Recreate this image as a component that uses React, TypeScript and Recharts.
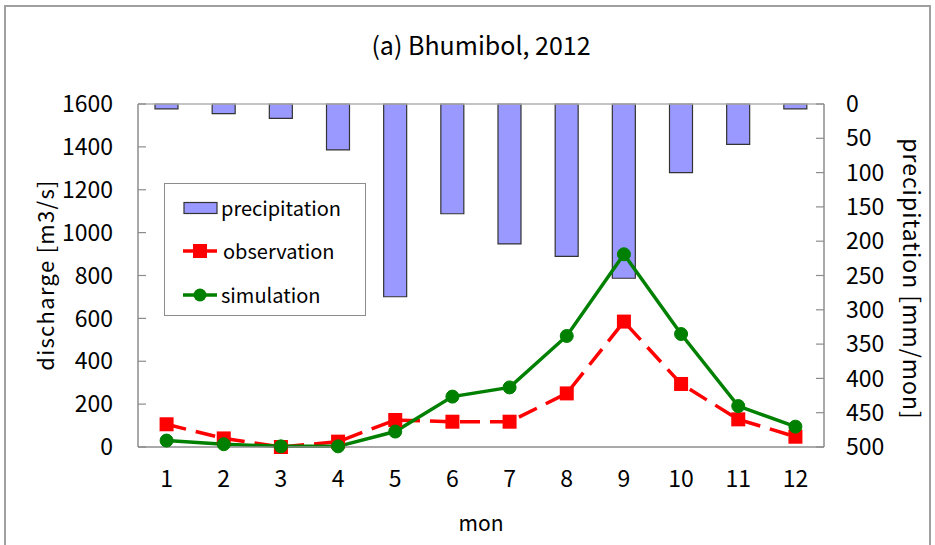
import React from 'react';
import { ComposedChart, Bar, Line, XAxis, YAxis, ReferenceLine, Legend } from 'recharts';

const months = [1, 2, 3, 4, 5, 6, 7, 8, 9, 10, 11, 12];
const precipitation = [7, 14, 21, 67, 281, 160, 204, 222, 254, 100, 59, 7];
const observation = [106, 40, 0, 25, 126, 118, 118, 250, 585, 294, 129, 48];
const simulation = [30, 13, 3, 3, 72, 235, 278, 518, 899, 527, 191, 95];
const dischargeTicks = [0, 200, 400, 600, 800, 1000, 1200, 1400, 1600];
const precipTicks = [0, 50, 100, 150, 200, 250, 300, 350, 400, 450, 500];
const boundaryTicks = [0.5, 1.5, 2.5, 3.5, 4.5, 5.5, 6.5, 7.5, 8.5, 9.5, 10.5, 11.5, 12.5];

const data = months.map((m, i) => ({
  mon: m,
  precipitation: precipitation[i],
  observation: observation[i],
  simulation: simulation[i],
}));

const FONT = '"Noto Sans CJK JP", "Noto Sans", sans-serif';
const AXIS = '#8c8c8c';
const BAR_FILL = '#9999ff';
const RED = '#ff0000';
const GREEN = '#008000';

const SquareDot = (props: any) => {
  const { cx, cy } = props;
  if (cx == null || cy == null) return <g />;
  return <rect x={cx - 7} y={cy - 7} width={14} height={14} fill={RED} stroke="none" />;
};

const LegendBox = () => (
  <div
    style={{
      width: 200,
      height: 131,
      border: '1.5px solid #8c8c8c',
      background: '#fff',
      fontFamily: FONT,
      fontSize: 20,
      color: '#000',
      position: 'relative',
    }}
  >
    <div style={{ position: 'absolute', left: 18, top: 12, display: 'flex', alignItems: 'center' }}>
      <svg width={36} height={14}>
        <rect x={1} y={1.5} width={33} height={11} fill={BAR_FILL} stroke="#333" strokeWidth={1.2} />
      </svg>
      <span style={{ marginLeft: 2, lineHeight: '24px' }}>precipitation</span>
    </div>
    <div style={{ position: 'absolute', left: 18, top: 55, display: 'flex', alignItems: 'center' }}>
      <svg width={36} height={14}>
        <line x1={0} y1={7} x2={34} y2={7} stroke={RED} strokeWidth={3.5} />
        <rect x={10} y={0} width={14} height={14} fill={RED} />
      </svg>
      <span style={{ marginLeft: 4, lineHeight: '24px' }}>observation</span>
    </div>
    <div style={{ position: 'absolute', left: 18, top: 99, display: 'flex', alignItems: 'center' }}>
      <svg width={36} height={14}>
        <line x1={0} y1={7} x2={34} y2={7} stroke={GREEN} strokeWidth={3.5} />
        <circle cx={17} cy={7} r={6.5} fill={GREEN} />
      </svg>
      <span style={{ marginLeft: 2, lineHeight: '24px' }}>simulation</span>
    </div>
  </div>
);

export default function App() {
  return (
    <div style={{ position: 'absolute', left: 0, top: 0, width: 935, height: 545, background: '#fff', overflow: 'hidden' }}>
      <div
        style={{
          position: 'absolute',
          left: 4,
          top: 5,
          width: 923,
          height: 600,
          borderTop: '2px solid #a0a0a0',
          borderLeft: '2px solid #a0a0a0',
          borderRight: '2px solid #a0a0a0',
        }}
      />
      <div
        style={{
          position: 'absolute',
          left: 0,
          width: 962,
          top: 26,
          textAlign: 'center',
          fontFamily: FONT,
          fontSize: 25,
          color: '#000',
        }}
      >
        (a) Bhumibol, 2012
      </div>
      <div
        style={{
          position: 'absolute',
          left: 44,
          top: 275,
          transform: 'translate(-50%, -50%) rotate(-90deg)',
          whiteSpace: 'nowrap',
          fontFamily: FONT,
          fontSize: 22,
          letterSpacing: 1.3,
          color: '#000',
        }}
      >
        discharge [m3/s]
      </div>
      <div
        style={{
          position: 'absolute',
          left: 913,
          top: 279,
          transform: 'translate(-50%, -50%) rotate(90deg)',
          whiteSpace: 'nowrap',
          fontFamily: FONT,
          fontSize: 23,
          letterSpacing: 1,
          color: '#000',
        }}
      >
        precipitation [mm/mon]
      </div>
      <div
        style={{
          position: 'absolute',
          left: 0,
          width: 962,
          top: 507,
          textAlign: 'center',
          fontFamily: FONT,
          fontSize: 21,
          color: '#000',
        }}
      >
        mon
      </div>
      <div style={{ position: 'absolute', left: 0, top: 0 }}>
        <ComposedChart
          width={935}
          height={545}
          data={data}
          margin={{ top: 104, right: 51, bottom: 67, left: 78 }}
        >
          <XAxis
            dataKey="mon"
            type="number"
            domain={[0.5, 12.5]}
            allowDataOverflow
            ticks={months}
            interval={0}
            tickLine={false}
            axisLine={{ stroke: AXIS, strokeWidth: 1.5 }}
            tickSize={0}
            tickMargin={24}
            height={1}
            tick={{ fontSize: 23, fill: '#000', fontFamily: FONT }}
          />
          <XAxis
            xAxisId="b"
            type="number"
            domain={[0.5, 12.5]}
            allowDataOverflow
            ticks={boundaryTicks}
            tick={false}
            tickSize={-8}
            height={30}
            axisLine={false}
            tickLine={{ stroke: AXIS, strokeWidth: 1.2 }}
          />
          <YAxis
            yAxisId="q"
            orientation="left"
            domain={[0, 1600]}
            ticks={dischargeTicks}
            interval={0}
            width={60}
            tickSize={-8}
            tickMargin={33}
            axisLine={{ stroke: AXIS, strokeWidth: 1.5 }}
            tickLine={{ stroke: AXIS, strokeWidth: 1.2 }}
            tick={{ fontSize: 23, fill: '#000', fontFamily: FONT }}
          />
          <YAxis
            yAxisId="p"
            orientation="right"
            domain={[0, 500]}
            reversed
            ticks={precipTicks}
            interval={0}
            width={60}
            tickSize={-8}
            tickMargin={30}
            axisLine={{ stroke: AXIS, strokeWidth: 1.5 }}
            tickLine={{ stroke: AXIS, strokeWidth: 1.2 }}
            tick={{ fontSize: 23, fill: '#000', fontFamily: FONT }}
          />
          <ReferenceLine yAxisId="q" y={1600} stroke="#b0b0b0" strokeWidth={1.5} />
          <Legend
            layout="vertical"
            align="center"
            verticalAlign="middle"
            content={() => <LegendBox />}
            wrapperStyle={{ left: 164, top: 183, width: 203, height: 134 }}
          />
          <Bar
            yAxisId="p"
            dataKey="precipitation"
            name="precipitation"
            barSize={23}
            fill={BAR_FILL}
            stroke="#333"
            strokeWidth={1.2}
            isAnimationActive={false}
          />
          <Line
            yAxisId="q"
            dataKey="observation"
            name="observation"
            stroke={RED}
            strokeWidth={3.5}
            strokeDasharray="20 10"
            dot={<SquareDot />}
            activeDot={false}
            isAnimationActive={false}
          />
          <Line
            yAxisId="q"
            dataKey="simulation"
            name="simulation"
            stroke={GREEN}
            strokeWidth={3.5}
            dot={{ r: 6.5, fill: GREEN, stroke: GREEN, strokeWidth: 1 }}
            activeDot={false}
            isAnimationActive={false}
          />
        </ComposedChart>
      </div>
    </div>
  );
}
